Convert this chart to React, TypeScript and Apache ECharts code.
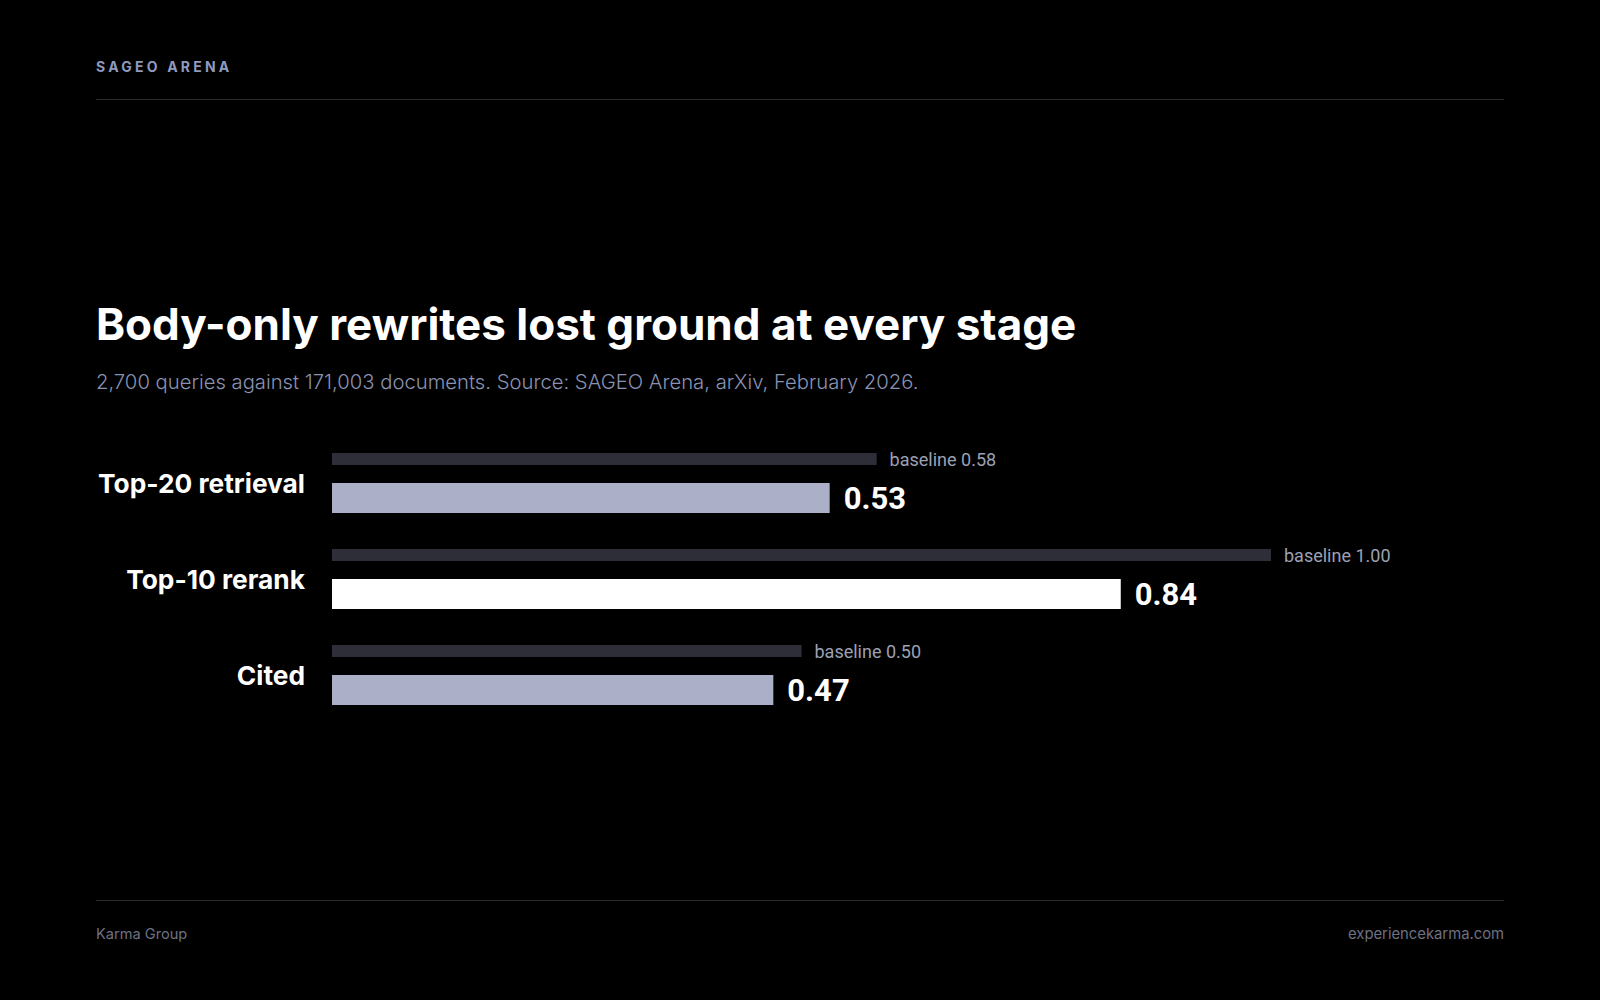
import React, { useEffect, useRef } from "react";
import * as echarts from "echarts";

const categories = ["Top-20 retrieval", "Top-10 rerank", "Cited"];
const baselineValues = [0.58, 1.0, 0.5];
const rewriteValues = [0.53, 0.84, 0.47];
const highlightIndex = 1;

const eyebrow = "SAGEO ARENA";
const titleText = "Body-only rewrites lost ground at every stage";
const subtitleText = "2,700 queries against 171,003 documents. Source: SAGEO Arena, arXiv, February 2026.";
const footerLeft = "Karma Group";
const footerRight = "experiencekarma.com";

const W = 1600;
const H = 1000;

export default function App() {
  const ref = useRef<HTMLDivElement>(null);

  useEffect(() => {
    document.body.style.margin = "0";
    document.body.style.background = "#000";
    const chart = echarts.init(ref.current!, null, { renderer: "svg" });
    const option: any = {
      animation: false,
      backgroundColor: "#000000",
      grid: { left: 332, top: 435, width: 939, height: 288, containLabel: false },
      xAxis: { type: "value", min: 0, max: 1, show: false },
      yAxis: {
        type: "category",
        data: categories,
        inverse: true,
        axisLine: { show: false },
        axisTick: { show: false },
        splitLine: { show: false },
        axisLabel: {
          color: "#ffffff",
          fontFamily: "Inter",
          fontWeight: 700,
          fontSize: 26.3,
          margin: 27,
          padding: [0, 0, 2, 0],
        },
      },
      series: [
        {
          type: "bar",
          name: "baseline",
          data: baselineValues,
          barWidth: 12,
          barGap: "150%",
          itemStyle: { color: "#2e2e38" },
          label: {
            show: true,
            position: "right",
            distance: 13,
            color: "#9ca1b3",
            fontFamily: "Roboto",
            fontSize: 18,
            formatter: (p: any) => "baseline " + Number(p.value).toFixed(2),
          },
        },
        {
          type: "bar",
          name: "rewrite",
          data: rewriteValues.map((v, i) => ({
            value: v,
            itemStyle: { color: i === highlightIndex ? "#ffffff" : "#abb0c8" },
          })),
          barWidth: 30,
          label: {
            show: true,
            position: "right",
            distance: 14,
            color: "#ffffff",
            fontFamily: "Roboto",
            fontWeight: 700,
            fontSize: 31,
            formatter: (p: any) => Number(p.value).toFixed(2),
          },
        },
      ],
      graphic: [
        {
          type: "text",
          left: 96,
          top: 59,
          style: {
            text: eyebrow,
            fill: "#8f9abf",
            font: "700 14px Inter",
          },
        },
        {
          type: "line",
          shape: { x1: 96, y1: 99.5, x2: 1504, y2: 99.5 },
          style: { stroke: "#2b2b2e", lineWidth: 1 },
        },
        {
          type: "text",
          x: 96,
          y: 324,
          style: {
            text: titleText,
            fill: "#ffffff",
            font: "700 44px Inter",
            verticalAlign: "middle",
          },
        },
        {
          type: "text",
          x: 96,
          y: 381.5,
          style: {
            text: subtitleText,
            fill: "#8a92b2",
            font: "300 20.25px Inter",
            verticalAlign: "middle",
          },
        },
        {
          type: "line",
          shape: { x1: 96, y1: 900.5, x2: 1504, y2: 900.5 },
          style: { stroke: "#2b2b2e", lineWidth: 1 },
        },
        {
          type: "text",
          x: 96,
          y: 934,
          style: {
            text: footerLeft,
            fill: "#6e7182",
            font: "400 14.6px Inter",
            verticalAlign: "middle",
          },
        },
        {
          type: "text",
          x: 1504,
          y: 934,
          style: {
            text: footerRight,
            fill: "#6e7182",
            font: "400 14.8px Inter",
            verticalAlign: "middle",
            align: "right",
          },
        },
      ],
    };
    chart.setOption(option);
    const texts = ref.current!.querySelectorAll("text");
    texts.forEach((t) => {
      if (t.textContent === eyebrow) {
        t.setAttribute("letter-spacing", "3.2");
      }
    });
    return () => chart.dispose();
  }, []);

  return (
    <div
      ref={ref}
      style={{ position: "absolute", left: 0, top: 0, width: W, height: H, background: "#000" }}
    />
  );
}
